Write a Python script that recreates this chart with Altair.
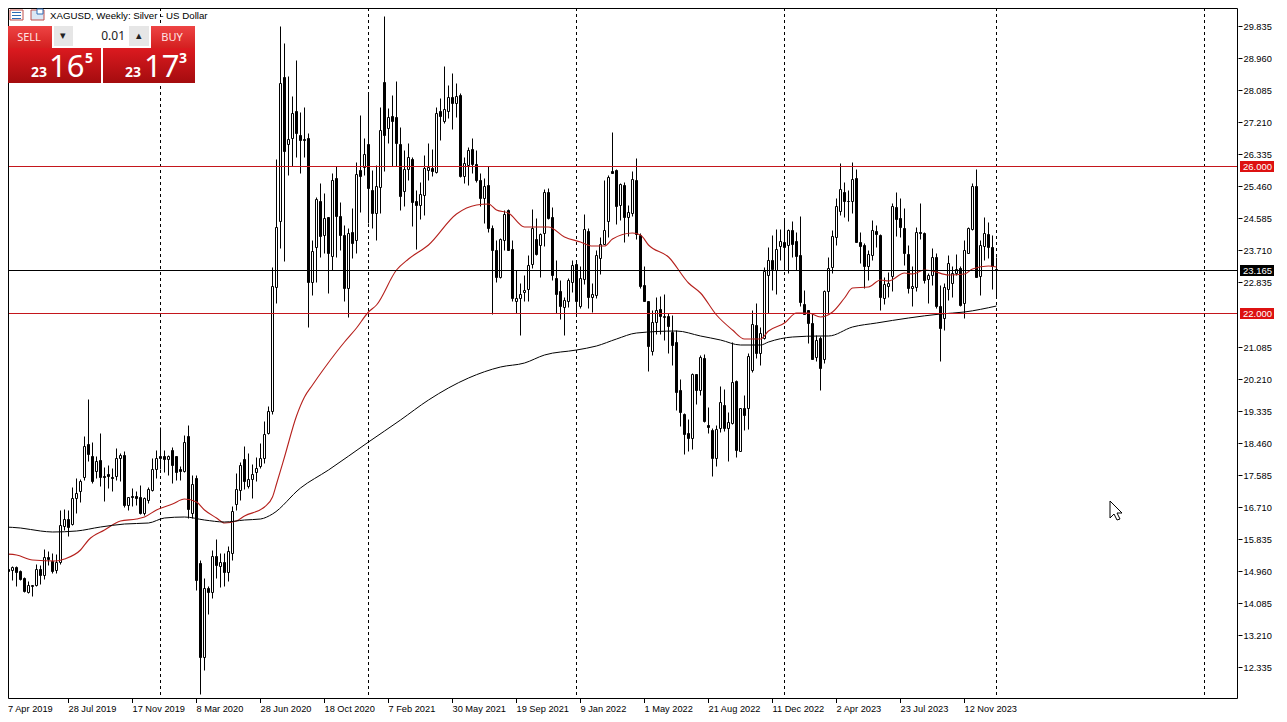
import altair as alt
import pandas as pd

# ---------- candle values (weekly, index 0 = 7 Apr 2019) ----------
highs = [
 15.08,15.08,15.10,15.08,14.99,14.79,14.67,14.58,15.15,15.13,
 15.55,15.50,15.45,15.43,16.61,16.65,16.63,17.25,17.49,17.46,
 18.63,19.65,18.49,18.10,18.72,17.79,17.85,17.76,18.31,18.19,
 18.24,16.99,17.22,17.13,17.31,16.99,17.25,18.04,18.26,18.88,
 18.26,18.13,18.34,18.10,17.83,18.67,18.95,17.58,17.58,15.26,
 14.76,14.55,15.54,15.84,15.45,15.45,15.63,16.74,17.63,17.92,
 18.37,18.17,17.88,18.06,18.45,19.05,19.46,23.26,26.20,29.83,
 29.38,28.47,27.92,28.91,27.50,27.62,26.92,24.00,25.18,25.54,
 25.27,24.63,25.83,26.00,25.04,24.41,24.32,24.86,26.11,27.41,
 26.77,27.98,25.91,26.04,27.63,30.11,27.59,27.95,28.34,27.09,
 26.45,26.63,26.25,25.36,25.59,26.32,26.63,26.47,27.63,27.86,
 28.74,28.22,28.54,28.27,28.00,26.27,26.54,26.77,26.45,25.82,
 25.68,26.00,24.41,23.98,24.04,24.80,24.83,23.98,23.18,22.83,
 23.04,23.59,24.83,24.59,24.18,25.38,25.41,24.89,23.45,22.91,
 22.45,22.95,23.45,23.41,23.27,24.71,24.32,22.82,23.72,24.07,
 25.62,25.77,26.93,25.92,25.56,25.59,24.95,25.89,26.22,24.18,
 23.27,22.34,22.07,22.45,22.47,22.52,22.00,21.95,21.54,20.20,
 19.27,19.11,20.36,20.34,20.85,20.89,19.43,18.86,18.95,20.02,
 19.92,19.29,21.22,20.16,19.41,19.77,20.91,22.07,22.27,21.63,
 23.25,23.81,24.13,24.29,24.29,24.54,24.29,24.52,24.22,24.65,
 22.63,22.09,22.00,21.40,21.36,22.63,23.54,24.27,25.13,26.09,
 25.59,25.36,26.11,25.92,24.22,23.92,23.72,24.54,24.40,24.16,
 22.99,23.13,25.01,25.29,25.13,24.86,23.86,23.27,24.36,25.01,
 24.22,23.09,23.77,23.63,22.77,22.81,23.59,23.27,23.61,23.27,
 23.98,24.34,25.54,25.92,24.00,24.63,24.49,24.13,23.54]
lows = [
 14.92,14.83,14.72,14.55,14.72,14.37,14.35,14.28,14.54,14.61,
 14.74,15.13,14.90,14.90,15.15,16.08,15.90,16.22,16.54,16.83,
 17.45,17.95,17.37,17.49,17.28,16.88,17.22,17.15,17.45,17.40,
 16.70,16.63,16.72,16.76,16.52,16.49,16.81,17.13,17.49,17.74,
 17.67,17.58,17.35,17.45,17.45,17.67,16.40,16.40,14.43,11.61,
 12.26,13.79,14.21,14.76,14.52,14.55,14.67,15.25,16.63,16.90,
 17.19,17.22,16.95,17.40,17.77,17.91,18.70,19.24,22.27,23.77,
 23.41,25.77,26.00,26.27,25.82,26.25,21.63,22.50,22.86,23.54,
 23.63,22.54,23.18,23.54,23.72,22.32,21.89,23.50,23.65,24.77,
 25.77,24.45,24.32,24.00,24.72,25.89,26.63,26.02,26.00,24.82,
 24.92,25.62,24.38,23.76,24.58,24.68,25.62,25.74,25.82,26.71,
 27.18,27.32,27.02,27.36,25.72,25.54,25.50,25.82,25.59,24.91,
 24.47,24.20,21.98,22.86,22.95,23.72,23.71,22.32,22.00,21.41,
 22.32,22.32,23.22,23.59,22.98,23.83,24.56,22.89,22.00,21.83,
 21.40,22.16,22.56,21.91,22.13,22.80,22.13,22.02,22.41,23.07,
 23.91,24.07,25.83,24.43,24.54,23.95,24.09,24.65,24.02,22.68,
 22.34,20.43,20.85,21.43,21.42,21.27,20.91,20.59,19.36,18.91,
 18.15,18.22,18.29,19.52,19.77,19.02,18.72,17.54,17.83,18.74,
 18.77,17.95,18.98,18.07,18.22,18.80,18.82,20.40,20.77,20.59,
 21.29,22.00,22.63,22.52,23.45,23.18,23.09,23.54,23.18,22.18,
 22.00,21.18,20.74,20.68,19.89,20.63,22.00,23.09,23.86,24.68,
 24.63,24.50,24.72,23.95,23.36,22.68,22.90,23.45,23.81,22.09,
 22.25,22.45,22.59,24.10,24.07,23.31,22.54,22.20,22.59,24.01,
 22.81,22.27,22.77,22.13,20.68,21.54,22.36,22.45,23.04,22.20,
 21.86,23.63,24.27,22.98,22.50,23.45,23.50,22.65,22.45]
body_tops = [
 15.04,15.01,15.06,15.06,14.95,14.76,14.57,14.57,15.01,15.01,
 15.34,15.34,15.22,15.21,16.21,16.37,16.37,16.95,17.08,17.41,
 18.37,18.43,18.10,17.95,17.99,17.55,17.61,17.52,18.04,18.13,
 18.13,16.97,17.01,17.01,16.97,16.95,17.19,17.74,18.04,18.09,
 18.10,18.10,18.26,18.10,17.74,18.48,18.65,17.33,17.49,15.17,
 14.49,14.49,15.37,15.37,15.21,15.21,15.50,16.59,17.19,17.85,
 18.02,17.46,17.61,17.76,18.04,18.70,19.32,22.74,24.36,28.29,
 28.43,26.74,27.47,27.51,26.85,26.74,26.77,23.68,25.11,25.07,
 24.59,24.62,25.63,25.68,24.66,24.13,24.18,24.21,25.80,25.91,
 26.34,26.62,25.36,25.47,27.00,28.31,27.34,27.38,27.34,26.62,
 25.92,26.25,26.20,25.07,25.25,25.95,25.98,25.95,27.45,27.51,
 27.58,27.89,27.89,27.92,27.95,26.09,26.45,26.47,26.07,25.63,
 25.47,25.50,24.32,23.72,24.02,24.71,24.80,23.74,22.42,22.52,
 22.63,23.32,24.32,24.02,24.16,25.31,25.31,24.62,22.95,22.60,
 22.36,22.89,23.32,23.34,22.95,24.29,24.24,22.52,23.59,23.89,
 24.27,25.71,25.88,25.91,25.51,25.49,24.76,25.65,25.63,24.13,
 22.76,22.32,21.76,22.09,22.11,21.91,21.92,21.48,21.21,19.91,
 19.25,18.72,20.34,20.34,20.80,20.78,18.95,18.80,18.83,19.56,
 19.49,19.02,20.12,20.14,19.40,19.40,20.83,21.70,21.68,21.45,
 23.16,23.45,23.45,23.74,23.96,23.94,24.27,24.27,23.96,23.59,
 22.25,22.07,21.72,21.27,21.32,22.60,23.23,24.10,24.92,25.38,
 25.30,25.07,25.65,25.68,23.94,23.86,23.61,24.27,24.24,24.13,
 22.78,22.83,24.92,24.89,24.60,24.32,23.61,22.74,24.21,24.21,
 24.18,23.03,23.54,23.52,22.20,22.70,23.36,23.09,23.20,23.23,
 23.72,24.32,25.47,25.47,23.87,24.18,24.16,23.79,23.19]
body_bottoms = [
 14.95,14.97,14.99,14.92,14.75,14.40,14.39,14.55,14.57,14.85,
 14.85,15.28,14.97,14.99,15.19,16.19,16.17,16.24,16.95,17.14,
 17.52,18.14,17.41,17.68,17.52,17.52,17.54,17.50,17.56,18.04,
 16.76,16.76,16.97,16.96,16.55,16.55,16.90,17.17,17.74,18.05,
 18.01,18.01,17.85,17.67,17.70,17.70,16.66,16.54,14.72,12.60,
 12.60,14.37,14.37,15.13,15.10,14.92,14.92,15.46,16.79,17.17,
 17.40,17.28,17.46,17.65,17.82,18.04,18.72,19.32,22.71,24.52,
 26.41,26.61,26.79,26.91,26.71,26.71,22.86,22.86,23.80,24.09,
 24.13,23.63,23.56,24.65,24.13,22.68,22.68,23.92,24.00,25.74,
 25.98,25.40,24.72,24.74,25.43,26.86,27.04,27.25,26.65,25.20,
 25.32,25.94,25.04,24.94,24.96,25.22,25.91,25.87,25.86,27.38,
 27.25,27.52,27.74,27.74,25.74,25.75,26.04,26.07,25.63,25.14,
 25.14,24.32,23.71,22.99,22.99,23.98,23.72,22.41,22.34,22.40,
 22.56,22.65,23.34,23.62,23.85,24.18,24.59,23.03,22.52,22.18,
 22.16,22.34,22.86,22.34,22.20,22.94,22.45,22.45,22.50,23.49,
 23.89,24.50,25.83,24.92,24.96,24.61,24.62,24.74,24.16,22.74,
 22.34,21.09,20.95,21.76,21.91,21.89,21.65,21.12,19.83,19.29,
 18.69,18.58,18.58,19.89,19.89,19.04,18.88,18.05,18.03,18.86,
 18.86,18.85,19.00,18.25,18.23,19.22,19.41,20.45,20.92,20.92,
 21.31,23.05,23.20,23.18,23.83,23.81,23.87,23.89,23.56,22.31,
 21.98,21.72,20.74,20.81,20.51,20.74,22.60,23.25,24.07,24.78,
 25.07,25.05,25.07,23.95,23.83,23.29,23.27,23.58,24.16,22.43,
 22.40,22.74,23.02,24.58,24.34,23.63,22.67,22.67,22.72,24.18,
 22.90,22.92,23.03,22.18,21.58,21.86,22.65,22.83,23.10,22.22,
 22.27,23.65,24.29,22.98,23.01,23.83,23.79,23.29,23.165]
directions = ("BBWBBBWWWB" "WBBWWWBWWW" "WBBWBBBBWW" "BWBBBWWWWB" "BWBBBWBWBB"
              "WBWBWBWWWW" "BWWWWWWWWW" "BWWBBBBWWB" "WBWBBBWBWB" "WBBWWBWBBB"
              "WWBBWWWBWB" "WWBWBWWBBB" "WBBBWWBBWW" "WWWBWWBBBB" "WWWBWWBWWW"
              "WWBBWBWWBB" "BBWWBWBBBB" "BBWBWBBBWW" "BWWBWBWWBW" "WWBWWBWBBB"
              "BBBWBWWWWW" "BWWBBBWWBB" "WWWBBBBWWB" "BWWBBWWWWB" "WWWBWWBBB")

# ---------- moving averages (week index, price) ----------
red_weeks = [0,3,7,13,15,19,21,25,29,33,35,38,42,45,48,50,53,55,58,60,65,67,68,70,73,75,77,80,83,85,
             88,91,93,98,101,106,113,118,121,123,126,130,136,140,144,147,150,152,157,159,161,
             166,171,174,178,182,185,189,191,195,198,201,204,207,210,212,216,219,221,225,227,
             230,232,236,240,242,246,248]
red_prices = [15.43,15.38,15.25,15.23,15.28,15.54,15.79,16.08,16.31,16.38,16.43,16.61,16.79,16.93,
              16.83,16.61,16.40,16.27,16.31,16.46,16.71,16.99,17.32,18.08,19.20,19.72,20.04,20.50,
              20.93,21.20,
              21.59,22.04,22.22,23.18,23.47,23.86,24.71,24.95,24.97,24.82,24.72,24.36,24.36,
              24.07,23.94,23.82,23.83,24.02,24.18,24.13,23.86,23.52,22.82,22.54,21.95,21.54,
              21.29,21.29,21.50,21.72,22.01,22.01,21.89,22.04,22.40,22.68,22.72,22.90,22.88,
              23.09,23.07,23.18,23.16,23.04,23.07,23.21,23.29,23.25]
black_weeks = [0,4,9,12,18,24,30,36,40,45,50,55,60,64,67,74,81,91,99,106,116,124,130,135,143,148,
               153,158,168,174,179,184,189,191,197,204,206,212,218,226,234,240,248]
black_prices = [16.17,16.13,16.04,16.01,16.05,16.15,16.25,16.28,16.40,16.43,16.35,16.29,16.35,16.38,
                16.52,17.22,17.72,18.47,19.08,19.63,20.22,20.52,20.63,20.86,20.98,21.09,21.29,
                21.45,21.50,21.36,21.25,21.12,21.12,21.20,21.34,21.36,21.36,21.61,21.72,21.86,
                21.98,22.02,22.18]

# ---------- scales and labels ----------
y_ticks = [29.835,28.96,28.085,27.21,26.335,25.46,24.585,23.71,22.835,21.085,20.21,19.335,
           18.46,17.585,16.71,15.835,14.96,14.085,13.21,12.335]
date_labels = ["7 Apr 2019","28 Jul 2019","17 Nov 2019","8 Mar 2020","28 Jun 2020","18 Oct 2020",
               "7 Feb 2021","30 May 2021","19 Sep 2021","9 Jan 2022","1 May 2022","21 Aug 2022",
               "11 Dec 2022","2 Apr 2023","23 Jul 2023","12 Nov 2023"]
year_breaks = [39,91,143,195,248,300]
levels = [26.0,22.0]
level_tags = ["26.000","22.000"]
bid = 23.165

W, H = 1230, 691
FONT = "Liberation Sans"
RED = "#c4161c"
x_scale = alt.Scale(domain=[0.875,308.375], nice=False, zero=False, padding=0)
y_scale = alt.Scale(domain=[11.462,30.327], nice=False, zero=False, round=True)
x_axis = alt.Axis(values=[16*k for k in range(1,len(date_labels))], tickSize=4, tickColor="black",
                  tickRound=False, translate=0, domain=False, grid=False, labelAlign="left",
                  labelPadding=6, labelBaseline="middle", labelFlush=False, labelOverlap=False,
                  labelBound=False, labelFont=FONT, labelFontSize=9.25, labelColor="black", title=None,
                  labelExpr="%s[datum.value/16]" % str(date_labels))
y_axis = alt.Axis(orient="right", values=y_ticks, format=".3f", tickSize=4, tickColor="black",
                  domain=False, grid=False, labelPadding=1, labelOverlap=False, labelFlush=False,
                  labelFont=FONT, labelFontSize=9.25, labelColor="black", title=None)
def X(field="week"):
    return alt.X(field + ":Q", scale=x_scale, axis=x_axis)
def Y(field="price"):
    return alt.Y(field + ":Q", scale=y_scale, axis=y_axis)

candles = pd.DataFrame({"week":range(len(highs)),"high":highs,"low":lows,
                        "top":body_tops,"bottom":body_bottoms,"dir":list(directions)})

wicks = alt.Chart(candles).mark_rule(color="black", strokeWidth=1, clip=True, yOffset=0.5, y2Offset=0.5).encode(
    x=X(), y=Y("low"), y2="high:Q")
bodies = alt.Chart(candles).mark_bar(size=2, stroke="black", strokeWidth=1, clip=True, orient="vertical",
                                     yOffset=0.5, y2Offset=0.5).encode(
    x=X(), y=Y("top"), y2="bottom:Q",
    fill=alt.Fill("dir:N", scale=alt.Scale(domain=["B","W"], range=["black","white"]), legend=None))

def ma(weeks, prices, color, width):
    df = pd.DataFrame({"week":weeks,"price":prices})
    return alt.Chart(df).mark_line(color=color, strokeWidth=width, clip=True, interpolate="monotone").encode(x=X(), y=Y())

breaks = alt.Chart(pd.DataFrame({"week":year_breaks})).mark_rule(
    color="black", strokeWidth=1, strokeDash=[3,3]).encode(x=X())

def hline(values, color):
    return alt.Chart(pd.DataFrame({"price":values})).mark_rule(color=color, strokeWidth=1, yOffset=0.5).encode(y=Y())

def tag(value, text, color):
    df = pd.DataFrame({"price":[value],"tag":[text]})
    r = alt.Chart(df).mark_rect(color=color, height=11, yOffset=0.5).encode(
        x=alt.value(1240-8), x2=alt.value(1274-8), y=Y())
    t = alt.Chart(df).mark_text(color="white", font=FONT, fontSize=9.5, align="left", baseline="middle",
                                yOffset=0.5).encode(x=alt.value(1243-8), y=Y(), text="tag:N")
    return r + t

# ---------- panel and furniture, placed in window pixels ----------
ONE = alt.Data(values=[{"a":1}])
def box(x1,y1,x2,y2,fill,stroke=None):
    kw = {"fill":fill}
    if stroke:
        kw.update(stroke=stroke, strokeWidth=1)
    return alt.Chart(ONE).mark_rect(**kw).encode(
        x=alt.value(x1-8), x2=alt.value(x2-8), y=alt.value(y1-8), y2=alt.value(y2-8))
def label(x,y,text,size=10,color="black",align="left",weight="normal",font=FONT):
    return alt.Chart(ONE).mark_text(text=text, fontSize=size, color=color, align=align, font=font,
                                    fontWeight=weight, baseline="alphabetic").encode(
        x=alt.value(x-8), y=alt.value(y-8))
def grad(a,b):
    return alt.LinearGradient(gradient="linear", x1=0, x2=0, y1=0, y2=1,
                              stops=[alt.GradientStop(color=a, offset=0), alt.GradientStop(color=b, offset=1)])

arrow = alt.Chart(ONE).mark_point(
    shape="M-0.6,-0.9 L-0.6,0.8 L-0.2,0.4 L0.1,1 L0.4,0.9 L0.1,0.3 L0.6,0.3 Z",
    size=400, filled=True, fill="white", stroke="black", strokeWidth=1, opacity=1).encode(
    x=alt.value(1116-8), y=alt.value(510-8))

panel = [
    box(8,26,52,48,grad("#ee4444","#d42020")),
    box(151,26,195,48,grad("#ee4444","#d42020")),
    box(8,48,101,83,grad("#dc1a20","#a40c0e")),
    box(103,48,195,83,grad("#dc1a20","#a40c0e")),
    box(54,26,73,46,"#e6e6e6"), box(73,26,129,46,"white"), box(129,26,149,46,"#e6e6e6"),
    label(29,41,"SELL",11,"#ffe4e4","center",font="Noto Sans"),
    label(172,41,"BUY",11,"#ffe4e4","center",font="Noto Sans"),
    label(125,40,"0.01",12,"#222222","right",font="Noto Sans"),
    label(63,39,"\u25be",11,"#222222","center"),
    label(139,39,"\u25b4",11,"#222222","center"),
    label(31,77,"23",14,"white",weight="bold",font="Noto Sans"),
    label(49,77,"16",31,"white",font="Noto Sans"),
    label(85,63,"5",14,"white",weight="bold",font="Noto Sans"),
    label(125,77,"23",14,"white",weight="bold",font="Noto Sans"),
    label(144,77,"17",31,"white",font="Noto Sans"),
    label(179,63,"3",14,"white",weight="bold",font="Noto Sans"),
    box(10,10,23,20,"white","#c0504d"),
    box(12,12,21,13,"#2f6db5"), box(12,15,21,16,"#2f6db5"), box(12,18,21,19,"#2f6db5"),
    box(31,10,44,20,"#dbe7f5","#c0504d"),
    box(37,9,43,14,"white","#2f6db5"),
    label(50,19,"XAGUSD, Weekly:  Silver - US Dollar",9.7),
    label(8,712,"7 Apr 2019",9.25),
]

frame = alt.Chart(ONE).mark_rect(fill="transparent", stroke="black", strokeWidth=1).encode(
    x=alt.value(0.5), x2=alt.value(W-0.5), y=alt.value(0.5), y2=alt.value(H-0.5))

chart = alt.layer(
    wicks, bodies, breaks,
    ma(red_weeks, red_prices, "#b5201c", 1.1), ma(black_weeks, black_prices, "black", 1),
    hline(levels, RED), hline([bid], "black"),
    frame, *panel, arrow,
    tag(levels[0], level_tags[0], "#dd1111"), tag(levels[1], level_tags[1], "#dd1111"),
    tag(bid, "23.165", "black"),
).properties(
    width=W, height=H,
    autosize=alt.AutoSizeParams(type="none"),
    padding={"left":0,"top":0,"right":41,"bottom":15},
).configure_view(stroke=None)

chart.save("out.html", embed_options={"renderer": "svg", "actions": False})
